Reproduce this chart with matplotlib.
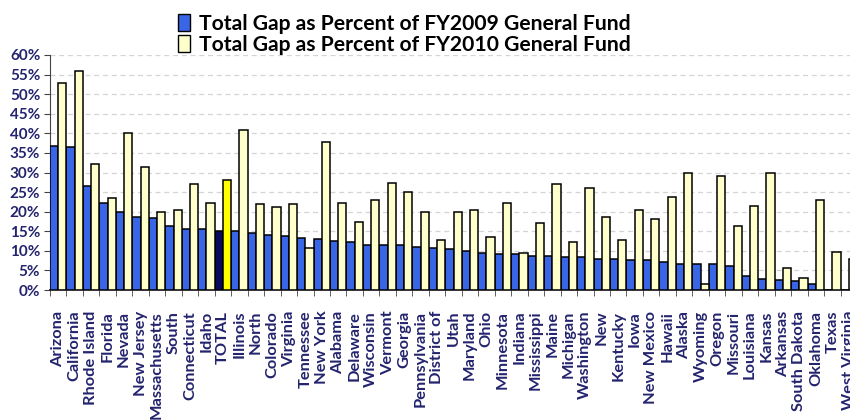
import numpy as np
import matplotlib
matplotlib.use("Agg")
import matplotlib.pyplot as plt
import matplotlib.patches as mpatches
from matplotlib.ticker import FixedLocator

# labels as they show on the axis (Excel cut the wrapped ones)
labels = ["Arizona", "California", "Rhode Island", "Florida", "Nevada", "New Jersey",
          "Massachusetts", "South", "Connecticut", "Idaho", "TOTAL", "Illinois", "North",
          "Colorado", "Virginia", "Tennessee", "New York", "Alabama", "Delaware", "Wisconsin",
          "Vermont", "Georgia", "Pennsylvania", "District of", "Utah", "Maryland", "Ohio",
          "Minnesota", "Indiana", "Mississippi", "Maine", "Michigan", "Washington", "New",
          "Kentucky", "Iowa", "New Mexico", "Hawaii", "Alaska", "Wyoming", "Oregon",
          "Missouri", "Louisiana", "Kansas", "Arkansas", "South Dakota", "Oklahoma",
          "Texas", "West Virginia"]

gap_fy2009 = [36.8, 36.4, 26.5, 22.1, 19.9, 18.7, 18.5, 16.3, 15.5, 15.5, 15.1, 15.1, 14.6,
              14.0, 13.7, 13.4, 13.1, 12.6, 12.3, 11.5, 11.5, 11.4, 11.0, 10.6, 10.4, 9.9,
              9.5, 9.2, 9.2, 8.7, 8.7, 8.3, 8.3, 8.0, 8.0, 7.7, 7.7, 7.2, 6.7, 6.7, 6.7, 6.1,
              3.6, 2.9, 2.55, 2.4, 1.5, 0.0, 0.0]
gap_fy2010 = [52.8, 56.0, 32.2, 23.4, 40.2, 31.3, 19.9, 20.3, 27.0, 22.1, 28.1, 40.8, 21.9,
              21.1, 21.9, 10.6, 37.9, 22.1, 17.4, 23.0, 27.4, 24.9, 19.8, 12.8, 19.8, 20.3,
              13.5, 22.1, 9.5, 17.0, 27.0, 12.3, 26.0, 18.7, 12.8, 20.3, 18.2, 23.8, 29.8,
              1.5, 29.1, 16.3, 21.4, 29.8, 5.7, 3.0, 23.1, 9.6, 7.9]

legend_labels = ["Total Gap as Percent of FY2009 General Fund",
                 "Total Gap as Percent of FY2010 General Fund"]

blue = "#3866e6"
cream = "#ffffcc"
navy_total = "#0a0a5a"
yellow_total = "#ffff00"
label_color = "#24246e"

plt.rcParams['font.family'] = ['Lato', 'DejaVu Sans']

fig = plt.figure(figsize=(8.5, 4.2), dpi=100)
ax = fig.add_axes([50 / 850, 130 / 420, 1 - 50 / 850, 235 / 420])

x = np.arange(len(labels))
c09 = [navy_total if l == "TOTAL" else blue for l in labels]
c10 = [yellow_total if l == "TOTAL" else cream for l in labels]

ax.bar(x - 0.25, gap_fy2009, width=0.5, color=c09, edgecolor="black", linewidth=1.1, zorder=3)
ax.bar(x + 0.25, gap_fy2010, width=0.5, color=c10, edgecolor="black", linewidth=1.1, zorder=3)

ax.set_xlim(-0.5, 48.07)
ax.set_ylim(0, 60)

ax.set_yticks(np.arange(0, 61, 5))
ax.set_yticklabels([f"{v}%" for v in range(0, 61, 5)])
ax.yaxis.grid(True, linestyle=(0, (4, 3)), color="#d4d4d4", linewidth=0.9, zorder=0)

ax.set_xticks(x)
ax.set_xticklabels(labels, rotation=90, va="top", ha="center")
ax.xaxis.set_minor_locator(FixedLocator(x - 0.5))
ax.tick_params(axis="x", which="major", length=0, pad=15)
ax.tick_params(axis="x", which="minor", length=4, color="#444444")
ax.tick_params(axis="y", length=4, color="#444444", pad=3)

for lab in ax.get_xticklabels():
    lab.set_color(label_color)
    lab.set_fontweight("bold")
    lab.set_fontsize(11.8)
for lab in ax.get_yticklabels():
    lab.set_color(label_color)
    lab.set_fontweight("bold")
    lab.set_fontsize(11)

for s in ["top", "right"]:
    ax.spines[s].set_visible(False)
ax.spines["left"].set_color("#444444")
ax.spines["bottom"].set_color("#222222")
ax.spines["bottom"].set_linewidth(1.3)

handles = [mpatches.Patch(facecolor=blue, edgecolor="black", linewidth=1),
           mpatches.Patch(facecolor=cream, edgecolor="black", linewidth=1)]
fig.legend(handles, legend_labels, loc="upper left", bbox_to_anchor=(163 / 850, 1 + 1 / 420),
           frameon=False, handlelength=0.6, handleheight=0.8, handletextpad=0.4,
           labelspacing=0.05, borderpad=0.2,
           prop={"family": ["Lato", "DejaVu Sans"], "weight": "bold", "size": 15.2})

fig.savefig("out.png", dpi=100)
